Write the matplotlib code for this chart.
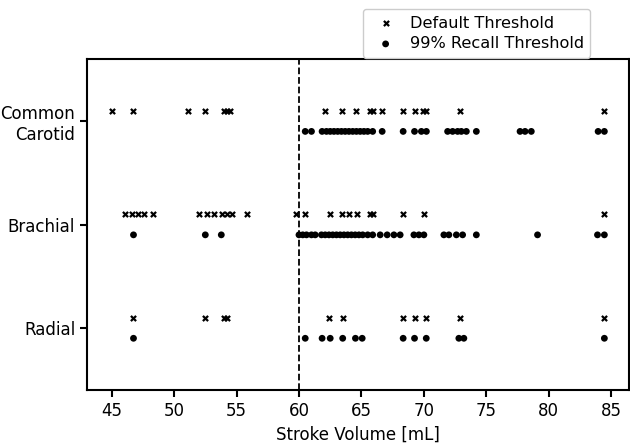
import matplotlib
matplotlib.use("Agg")
import matplotlib.pyplot as plt

categories = ["Radial", "Brachial", "Common\nCarotid"]

carotid_default = [45.0, 46.75, 51.15, 52.5, 54.0, 54.25, 54.5, 62.06, 63.45, 64.57,
                   65.7, 65.9, 66.66, 68.34, 69.25, 69.95, 70.15, 72.88, 84.45]
carotid_recall = [60.5, 61.0, 61.85, 62.2, 62.5, 62.8, 63.1, 63.4, 63.7, 64.0, 64.3,
                  64.6, 64.9, 65.2, 65.5, 65.9, 66.66, 68.34, 69.25, 69.8, 70.2, 71.9,
                  72.3, 72.7, 73.0, 73.4, 74.2, 77.7, 78.1, 78.6, 83.95, 84.45]

brachial_default = [46.1, 46.6, 47.1, 47.6, 48.35, 51.96, 52.6, 53.16, 53.83, 54.2,
                    54.6, 55.84, 59.75, 60.45, 62.46, 63.45, 64.04, 64.65, 65.7, 65.9,
                    68.34, 70.0, 84.45]
brachial_recall = [46.75, 52.5, 53.78, 60.0, 60.3, 60.6, 61.0, 61.3, 61.8, 62.1, 62.4,
                   62.7, 63.0, 63.3, 63.6, 63.9, 64.2, 64.5, 64.8, 65.1, 65.5, 65.9,
                   66.5, 67.06, 67.6, 68.1, 69.2, 69.6, 70.0, 71.6, 72.0, 72.6, 73.1,
                   74.2, 79.1, 83.9, 84.45]

radial_default = [46.75, 52.44, 53.96, 54.2, 62.42, 63.55, 68.34, 69.25, 70.19, 72.88, 84.45]
radial_recall = [46.75, 60.5, 61.85, 62.5, 63.5, 64.52, 65.06, 68.34, 69.25, 70.19,
                 72.8, 73.2, 84.45]

default_series = [radial_default, brachial_default, carotid_default]
recall_series = [radial_recall, brachial_recall, carotid_recall]

threshold_line = 60

plt.rcParams["font.family"] = ["DejaVu Sans"]
plt.rcParams["font.size"] = 12

fig = plt.figure(figsize=(6.3, 4.46), dpi=100)
ax = fig.add_axes([87 / 630, 56 / 446, 542 / 630, 331 / 446])

offset = 0.1
for i, (d, r) in enumerate(zip(default_series, recall_series)):
    ax.scatter(d, [i + offset] * len(d), marker="x", s=14, color="black",
               linewidths=1.6, label="Default Threshold" if i == 0 else None, zorder=3)
    ax.scatter(r, [i - offset] * len(r), marker="o", s=24, color="black",
               edgecolors="none", label="99% Recall Threshold" if i == 0 else None, zorder=3)

ax.axvline(threshold_line, color="black", linestyle="--", linewidth=1.3)

ax.set_ylim(-0.6, 2.6)
ax.set_yticks(range(len(categories)))
ax.set_yticklabels(categories, fontsize=12)
ax.set_xticks([45, 50, 55, 60, 65, 70, 75, 80, 85])
ax.tick_params(axis="both", labelsize=12, length=5, width=1.5)
ax.set_xlabel("Stroke Volume [mL]", fontsize=12)
for sp in ax.spines.values():
    sp.set_linewidth(1.5)

fig.legend(loc="upper left", bbox_to_anchor=(355 / 630, 1 - 1.0 / 446),
           fontsize=11.6, frameon=True, framealpha=1, edgecolor="#cccccc",
           borderpad=0.4, handletextpad=0.5, labelspacing=0.35)

fig.savefig("out.png", dpi=100)
